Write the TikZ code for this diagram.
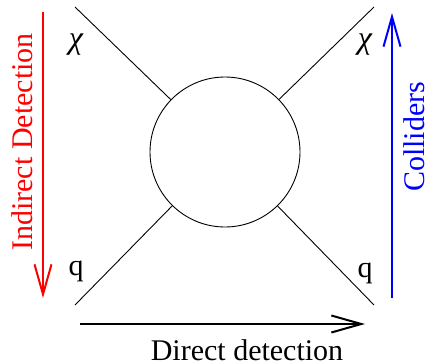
\documentclass[tikz,border=0pt]{standalone}
\usepackage{fontspec}
\setmainfont{Liberation Serif}
\usetikzlibrary{arrows.meta}
\begin{document}
\begin{tikzpicture}[x=1pt,y=-1pt,
  lbl/.style={font=\fontsize{30}{36}\selectfont, inner sep=0pt},
  chi/.style={font=\fontsize{32}{36}\selectfont\itshape, inner sep=0pt},
  leg/.style={line width=0.9pt},
  bigarrow/.style={line width=2pt, -{Straight Barb[length=30pt,width=17pt,line width=2pt]}}]
\useasboundingbox (0,0) rectangle (426,364);
\node[draw, circle, line width=0.9pt, minimum size=150pt, inner sep=0pt] (blob) at (225,152) {};
\coordinate (tl) at (75,7);
\coordinate (tr) at (374,7);
\coordinate (bl) at (75,305);
\coordinate (br) at (374,305);
\draw[leg] (tl) -- (blob);
\draw[leg] (tr) -- (blob);
\draw[leg] (bl) -- (blob);
\draw[leg] (br) -- (blob);
\node[chi] (chil) at (76,45) {χ};
\node[chi] (chir) at (365,45) {χ};
\node[lbl] (ql) at (76,271) {q};
\node[lbl] (qr) at (365,273) {q};
\coordinate (rs) at (43,12);
\coordinate (re) at (43,298);
\draw[bigarrow, red] (rs) -- (re);
\coordinate (bs) at (392,298);
\coordinate (be) at (392,13);
\draw[bigarrow, blue] (bs) -- (be);
\coordinate (ks) at (80,324);
\coordinate (ke) at (365,324);
\draw[bigarrow, black] (ks) -- (ke);
\node[lbl, red, rotate=90] (ind) at (22,142) {Indirect Detection};
\node[lbl, blue, rotate=90] (col) at (414,137) {Colliders};
\node[lbl] (dir) at (247,350) {Direct detection};
\end{tikzpicture}
\end{document}
